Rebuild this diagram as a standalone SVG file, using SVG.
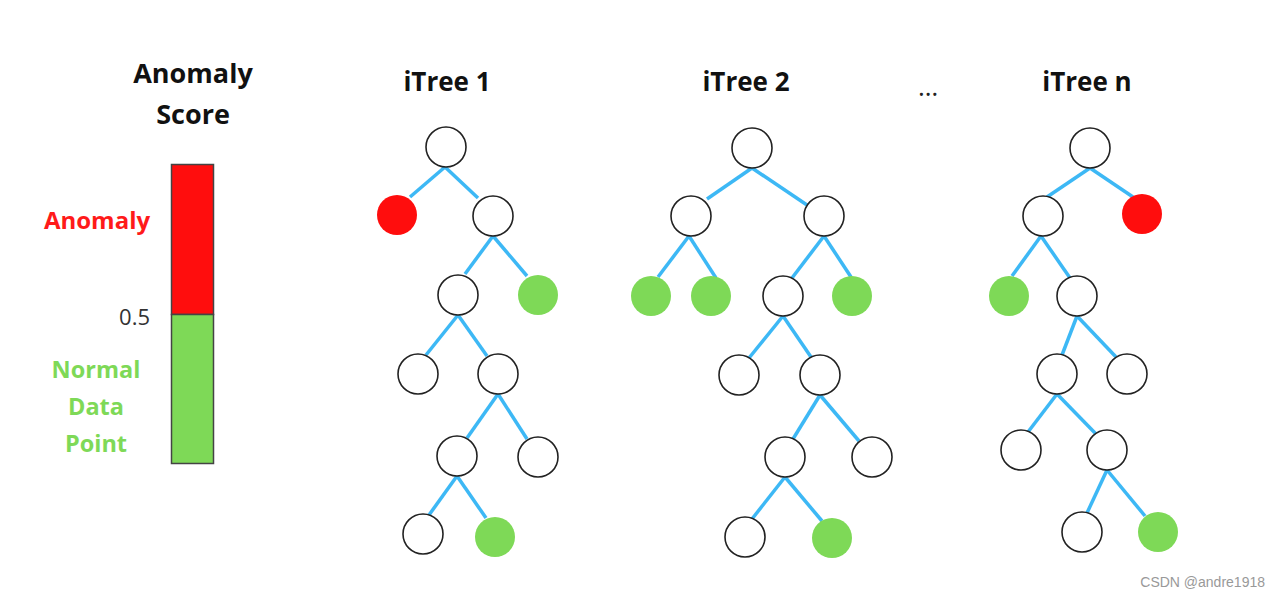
<svg xmlns="http://www.w3.org/2000/svg" width="1281" height="597" viewBox="0 0 1281 597">
<style>
.t{font-family:"Open Sans","Liberation Sans",sans-serif;font-weight:bold;fill:#111;font-size:26px;text-anchor:middle}
.l{font-family:"Open Sans","Liberation Sans",sans-serif;font-weight:bold;font-size:23.5px;text-anchor:middle}
.n{fill:#fff;stroke:#222;stroke-width:1.6}
.r{fill:#ff0d0d}
.g{fill:#7ed957}
.e{stroke:#3db8f5;stroke-width:3.5;stroke-linecap:butt}
</style>
<rect width="1281" height="597" fill="#fff"/>
<g id="legend">
<text class="t" x="193" y="83" style="font-size:27px">Anomaly</text>
<text class="t" x="193" y="124" style="font-size:27px">Score</text>
<rect x="171.5" y="164.5" width="42" height="150" fill="#ff0d0d" stroke="#444" stroke-width="1.5"/>
<rect x="171.5" y="314.5" width="42" height="149" fill="#7ed957" stroke="#444" stroke-width="1.5"/>
<text class="l" x="97" y="229" style="fill:#ff1a1a;font-size:24px">Anomaly</text>
<text x="150" y="325" style="font-family:'Open Sans','Liberation Sans',sans-serif;font-size:22px;fill:#333;text-anchor:end">0.5</text>
<text class="l" x="96" y="378" style="fill:#7ed957">Normal</text>
<text class="l" x="96" y="415" style="fill:#7ed957">Data</text>
<text class="l" x="96" y="452" style="fill:#7ed957">Point</text>
</g>
<g id="titles">
<text class="t" x="447" y="91">iTree 1</text>
<text class="t" x="746" y="91">iTree 2</text>
<text class="t" x="1087" y="91">iTree n</text>
<text x="928" y="96" style="font-family:'Open Sans','Liberation Sans',sans-serif;font-size:26px;fill:#222;text-anchor:middle">…</text>
</g>
<g id="connectors">
<line class="e" x1="445" y1="167" x2="410" y2="197"/>
<line class="e" x1="445" y1="167" x2="478" y2="198"/>
<line class="e" x1="493" y1="236" x2="465" y2="274"/>
<line class="e" x1="493" y1="236" x2="527" y2="276"/>
<line class="e" x1="458" y1="315" x2="426" y2="355"/>
<line class="e" x1="458" y1="315" x2="487" y2="356"/>
<line class="e" x1="498" y1="394" x2="467" y2="438"/>
<line class="e" x1="498" y1="394" x2="527" y2="439"/>
<line class="e" x1="457" y1="476" x2="429" y2="515"/>
<line class="e" x1="457" y1="476" x2="486" y2="518"/>
<line class="e" x1="752" y1="168" x2="707" y2="199"/>
<line class="e" x1="752" y1="168" x2="807" y2="205"/>
<line class="e" x1="689" y1="236" x2="658" y2="277"/>
<line class="e" x1="689" y1="236" x2="716" y2="278"/>
<line class="e" x1="824" y1="236" x2="792" y2="278"/>
<line class="e" x1="824" y1="236" x2="851" y2="277"/>
<line class="e" x1="783" y1="316" x2="749" y2="358"/>
<line class="e" x1="783" y1="316" x2="811" y2="357"/>
<line class="e" x1="820" y1="395" x2="793" y2="439"/>
<line class="e" x1="820" y1="395" x2="859" y2="441"/>
<line class="e" x1="785" y1="477" x2="752" y2="519"/>
<line class="e" x1="785" y1="477" x2="822" y2="521"/>
<line class="e" x1="1090" y1="168" x2="1047" y2="197"/>
<line class="e" x1="1090" y1="168" x2="1133" y2="197"/>
<line class="e" x1="1041" y1="236" x2="1012" y2="276"/>
<line class="e" x1="1041" y1="236" x2="1070" y2="278"/>
<line class="e" x1="1077" y1="316" x2="1062" y2="355"/>
<line class="e" x1="1077" y1="316" x2="1116" y2="357"/>
<line class="e" x1="1057" y1="394" x2="1028" y2="432"/>
<line class="e" x1="1057" y1="394" x2="1096" y2="434"/>
<line class="e" x1="1107" y1="470" x2="1087" y2="513"/>
<line class="e" x1="1107" y1="470" x2="1145" y2="516"/>
</g>
<g id="tree1">
<circle id="t1n1" class="n" cx="446" cy="147" r="20"/>
<circle id="t1n2" class="r" cx="397" cy="215" r="20"/>
<circle id="t1n3" class="n" cx="493" cy="216" r="20"/>
<circle id="t1n4" class="n" cx="458" cy="295" r="20"/>
<circle id="t1n5" class="g" cx="538" cy="295" r="20"/>
<circle id="t1n6" class="n" cx="418" cy="374" r="20"/>
<circle id="t1n7" class="n" cx="498" cy="374" r="20"/>
<circle id="t1n8" class="n" cx="457" cy="456" r="20"/>
<circle id="t1n9" class="n" cx="538" cy="457" r="20"/>
<circle id="t1n10" class="n" cx="423" cy="534" r="20"/>
<circle id="t1n11" class="g" cx="495" cy="537" r="20"/>
</g>
<g id="tree2">
<circle id="t2n1" class="n" cx="752" cy="148" r="20"/>
<circle id="t2n2" class="n" cx="691" cy="216" r="20"/>
<circle id="t2n3" class="n" cx="824" cy="216" r="20"/>
<circle id="t2n4" class="g" cx="651" cy="296" r="20"/>
<circle id="t2n5" class="g" cx="711" cy="296" r="20"/>
<circle id="t2n6" class="n" cx="783" cy="296" r="20"/>
<circle id="t2n7" class="g" cx="852" cy="296" r="20"/>
<circle id="t2n8" class="n" cx="739" cy="375" r="20"/>
<circle id="t2n9" class="n" cx="820" cy="375" r="20"/>
<circle id="t2n10" class="n" cx="785" cy="457" r="20"/>
<circle id="t2n11" class="n" cx="872" cy="457" r="20"/>
<circle id="t2n12" class="n" cx="745" cy="537" r="20"/>
<circle id="t2n13" class="g" cx="832" cy="538" r="20"/>
</g>
<g id="treen">
<circle id="tnn1" class="n" cx="1090" cy="148" r="20"/>
<circle id="tnn2" class="n" cx="1043" cy="216" r="20"/>
<circle id="tnn3" class="r" cx="1142" cy="214" r="20"/>
<circle id="tnn4" class="g" cx="1009" cy="296" r="20"/>
<circle id="tnn5" class="n" cx="1077" cy="296" r="20"/>
<circle id="tnn6" class="n" cx="1057" cy="374" r="20"/>
<circle id="tnn7" class="n" cx="1127" cy="374" r="20"/>
<circle id="tnn8" class="n" cx="1021" cy="450" r="20"/>
<circle id="tnn9" class="n" cx="1107" cy="450" r="20"/>
<circle id="tnn10" class="n" cx="1082" cy="532" r="20"/>
<circle id="tnn11" class="g" cx="1158" cy="532" r="20"/>
</g>
<text x="1265" y="587" style="font-family:'Liberation Sans',sans-serif;font-size:14px;fill:#999;text-anchor:end">CSDN @andre1918</text>
</svg>
